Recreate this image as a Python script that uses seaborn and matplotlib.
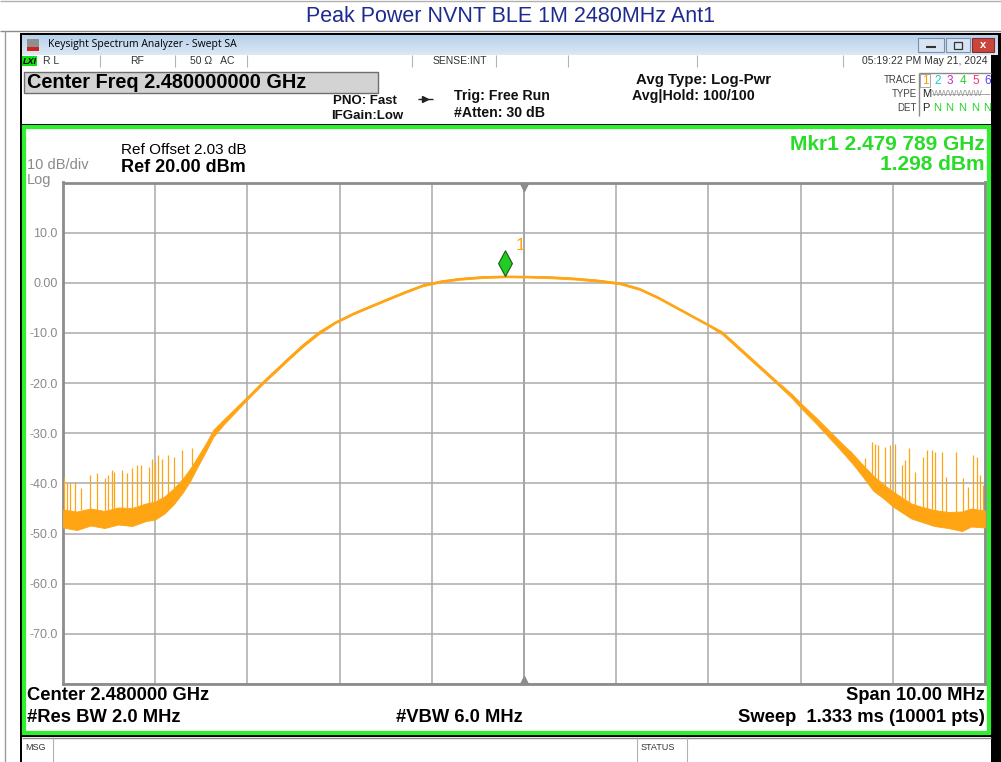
import numpy as np
import matplotlib
matplotlib.use("Agg")
import matplotlib.pyplot as plt
from matplotlib.patches import Rectangle
from matplotlib.path import Path
from matplotlib.colors import LinearSegmentedColormap
import seaborn as sns

# ------------------------------------
# Trace (offset from 2.48 GHz in MHz, level in dBm)
# low / high = bottom and top of the noisy trace band
# ------------------------------------
freq_mhz = [-5.00, -4.85, -4.70, -4.55, -4.40, -4.25, -4.10, -4.00, -3.90, -3.80,
            -3.70, -3.62, -3.55, -3.45, -3.37, -3.25, -3.11, -2.97, -2.84, -2.70,
            -2.55, -2.40, -2.23, -2.05, -1.85, -1.67, -1.50, -1.30, -1.10, -0.90,
            -0.70, -0.45, -0.20, 0.05, 0.30, 0.55, 0.80, 1.04, 1.25, 1.45,
            1.60, 1.80, 2.00, 2.15, 2.30, 2.45, 2.60, 2.75, 2.90, 3.03,
            3.17, 3.30, 3.43, 3.56, 3.68, 3.79, 3.90, 4.00, 4.10, 4.20,
            4.30, 4.45, 4.60, 4.75, 4.85, 5.00]
trace_low = [-48.8, -49.3, -48.4, -48.9, -48.2, -48.5, -47.5, -47.2, -46.0, -44.2,
             -41.8, -39.5, -37.0, -33.6, -30.7, -28.1, -25.4, -22.7, -20.3, -17.9,
             -15.3, -12.8, -10.3, -8.1, -6.3, -4.9, -3.6, -2.1, -0.7, 0.1,
             0.6, 0.95, 1.1, 1.05, 0.9, 0.65, 0.25, -0.3, -1.4, -3.1,
             -4.6, -6.6, -8.6, -10.3, -12.8, -15.3, -17.8, -20.3, -22.9, -25.5,
             -28.1, -30.7, -33.3, -36.0, -38.8, -41.5, -43.0, -44.6, -45.8, -47.0,
             -47.6, -48.5, -48.9, -49.5, -48.6, -48.8]
trace_high = [-45.2, -45.6, -45.0, -45.5, -44.8, -44.9, -44.0, -43.6, -42.6, -41.0,
              -39.0, -37.0, -35.0, -32.0, -29.3, -27.1, -24.6, -22.1, -19.7, -17.3,
              -14.7, -12.2, -9.7, -7.7, -5.9, -4.5, -3.2, -1.7, -0.3, 0.5,
              1.0, 1.35, 1.45, 1.4, 1.3, 1.05, 0.65, 0.1, -1.0, -2.7,
              -4.2, -6.2, -8.2, -9.7, -12.2, -14.7, -17.2, -19.7, -22.1, -24.5,
              -26.9, -29.3, -31.7, -34.0, -36.4, -38.5, -40.2, -41.6, -42.8, -44.0,
              -44.6, -45.3, -45.7, -45.6, -45.0, -45.4]

# noise spikes on the skirts
spike_left_mhz = [-4.99, -4.96, -4.92, -4.87, -4.80, -4.71, -4.63, -4.54, -4.51, -4.47,
                  -4.45, -4.36, -4.31, -4.25, -4.20, -4.15, -4.07, -4.04, -4.00, -3.97,
                  -3.93, -3.86, -3.80, -3.71, -3.60]
spike_left_dbm = [-39.0, -40.0, -40.0, -39.7, -41.0, -38.4, -38.0, -39.0, -38.4, -37.4,
                  -37.7, -37.3, -38.0, -37.0, -36.4, -36.4, -36.7, -35.1, -35.7, -34.4,
                  -35.1, -34.4, -34.7, -33.4, -33.0]
spike_right_mhz = [3.55, 3.70, 3.77, 3.81, 3.84, 3.92, 3.97, 4.02, 4.10, 4.13,
                   4.18, 4.24, 4.33, 4.37, 4.42, 4.46, 4.53, 4.58, 4.69, 4.76,
                   4.82, 4.87, 4.91, 4.95, 4.98]
spike_right_dbm = [-33.5, -35.0, -31.7, -32.1, -32.4, -32.7, -32.4, -32.1, -36.4, -35.4,
                   -33.0, -37.7, -34.7, -33.4, -33.4, -33.7, -33.7, -38.7, -33.7, -39.0,
                   -40.7, -34.4, -34.7, -38.4, -40.4]

marker_mhz = -0.211
marker_dbm = 1.298

y_levels = [20, 10, 0, -10, -20, -30, -40, -50, -60, -70, -80]
y_labels = ["", "10.0", "0.00", "-10.0", "-20.0", "-30.0", "-40.0", "-50.0", "-60.0", "-70.0", ""]
x_divs = [-5, -4, -3, -2, -1, 0, 1, 2, 3, 4, 5]

# ------------------------------------
# Style
# ------------------------------------
sns.set_style("white")
plt.rcParams["font.family"] = ["Liberation Sans", "DejaVu Sans"]
NARROW = ["Liberation Sans Narrow", "Liberation Sans", "DejaVu Sans"]

ORANGE = "#ffa413"
GREEN = "#2ef02e"
GRID = "#a9a9a9"

W, H = 1001, 762
fig = plt.figure(figsize=(W / 100, H / 100), dpi=100)
fig.patch.set_facecolor("white")

# background layer in pixel coordinates
bg = fig.add_axes([0, 0, 1, 1])
bg.axis("off")

def rect(x0, y0, x1, y1, fc="none", ec="none", lw=0, z=1):
    bg.add_patch(Rectangle((x0, y0), x1 - x0, y1 - y0, facecolor=fc,
                           edgecolor=ec, linewidth=lw, zorder=z))

def line(x0, y0, x1, y1, c="#9a9a9a", lw=1, z=3):
    bg.plot([x0, x1], [y0, y1], color=c, lw=lw, zorder=z, solid_capstyle="butt")

# outer page
line(0, 1, W, 1, c="#b0b0b0")
line(0, 31, W, 31, c="#8a8a8a")
line(5, 31, 5, H, c="#9a9a9a")
bg.text(511, 17, "Peak Power NVNT BLE 1M 2480MHz Ant1", ha="center", va="center",
        fontsize=15.5, color="#1d2b8e", family=NARROW)

# analyzer window
rect(20, 33, W, H, fc="black", z=1)
grad = LinearSegmentedColormap.from_list("tb", ["#b8d0ea", "#dbe8f5"])
bg.imshow(np.linspace(0, 1, 30).reshape(-1, 1), extent=[22, 998, 55, 35],
          cmap=grad, aspect="auto", zorder=2)
rect(27, 39, 39, 51, fc="#8f8f8f", z=3)
rect(27, 47, 39, 51, fc="#d02020", z=4)
bg.text(48, 45, "Keysight Spectrum Analyzer - Swept SA", ha="left", va="center",
        fontsize=7.5, color="black", family=["Open Sans", "DejaVu Sans"])
rect(918, 38, 944, 52, fc="#d6e4f3", ec="#7d8fa8", lw=0.8, z=3)
line(926, 47, 936, 47, c="#333", lw=1.5, z=4)
rect(946, 38, 970, 52, fc="#d6e4f3", ec="#7d8fa8", lw=0.8, z=3)
rect(954, 42, 962, 49, fc="none", ec="#333", lw=0.9, z=4)
rect(972, 38, 994, 52, fc="#c9463d", ec="#7d3030", lw=0.8, z=3)
bg.text(983, 45, "x", ha="center", va="center", fontsize=8, color="white",
        weight="bold", zorder=5)

# status row
rect(22, 55, 991, 67, fc="white", z=2)
rect(22, 56, 37, 66, fc="#14e014", z=3)
bg.text(29.5, 61, "LXI", ha="center", va="center", fontsize=6.5, weight="bold",
        style="italic", color="black", family=NARROW, zorder=4)
for sx in [100, 175, 247, 412, 496, 568, 697, 843]:
    line(sx, 55, sx, 67, c="#b5b5b5", lw=0.8)
status_font = dict(fontsize=7.5, color="#333333", va="center", family=NARROW, zorder=4)
bg.text(43, 61, "R L", ha="left", **status_font)
bg.text(137, 61, "RF", ha="center", **status_font)
bg.text(190, 61, "50 Ω   AC", ha="left", **status_font)
bg.text(433, 61, "SENSE:INT", ha="left", **status_font)
bg.text(988, 61, "05:19:22 PM May 21, 2024", ha="right", **status_font)

# header area
rect(22, 67, 991, 124, fc="white", z=2)
rect(24, 72, 378, 93, fc="#d3d3d3", ec="#6f6f6f", lw=1, z=3)
bg.text(27, 83, "Center Freq 2.480000000 GHz", ha="left", va="center",
        fontsize=14.3, weight="bold", color="black", zorder=4)
hdr = dict(fontsize=9.5, weight="bold", color="#111111", va="center", family=NARROW, zorder=4)
bg.text(333, 101, "PNO: Fast", ha="left", **hdr)
bg.text(331, 116, "IFGain:Low", ha="left", **hdr)
line(418, 99, 433, 99, c="#222", lw=1)
bg.plot([425], [99], marker=">", ms=4, color="#222", zorder=4)
hdr2 = dict(hdr, fontsize=10.2)
bg.text(454, 96, "Trig: Free Run", ha="left", **hdr2)
bg.text(454, 113, "#Atten: 30 dB", ha="left", **hdr2)
bg.text(636, 80, "Avg Type: Log-Pwr", ha="left", **dict(hdr, fontsize=10.8))
bg.text(632, 96, "Avg|Hold: 100/100", ha="left", **dict(hdr, fontsize=10.3))

small = dict(fontsize=7, color="#444444", va="center", family=NARROW, zorder=4)
bg.text(917, 80, "TRACE", ha="right", **small)
bg.text(917, 94, "TYPE", ha="right", **small)
bg.text(917, 108, "DET", ha="right", **small)
line(919, 73, 919, 116, c="#8a8a8a", lw=1)
line(919, 73, 991, 73, c="#8a8a8a", lw=1)
rect(920, 74, 930, 87, fc="none", ec="#999999", lw=0.6, z=3)
trace_cols = ["#ff9a00", "#18c8d8", "#c428c4", "#28d028", "#ff2a70", "#5a3cff"]
for i, c in enumerate(trace_cols):
    bg.text(925 + i * 12.6, 80.5, str(i + 1), ha="center", va="center",
            fontsize=8.5, color=c, family=NARROW, zorder=4)
bg.text(922, 94, "M", ha="left", fontsize=8, color="#222", va="center", family=NARROW, zorder=4)
bg.text(932, 94, "WWWWWW", ha="left", fontsize=6.5, color="#9a9a9a", va="center",
        family=NARROW, zorder=4)
line(932, 94, 990, 94, c="#9a9a9a", lw=0.6, z=5)
bg.text(922, 108, "P", ha="left", fontsize=8, color="#222", va="center", family=NARROW, zorder=4)
for i in range(5):
    bg.text(937 + i * 12.6, 108, "N", ha="center", va="center", fontsize=8,
            color="#22d822", family=NARROW, zorder=4)

# green measurement frame
rect(24, 127, 989, 733, fc="white", ec=GREEN, lw=3, z=2)
bg.text(121, 150, "Ref Offset 2.03 dB", ha="left", va="center", fontsize=11,
        color="black", zorder=4)
bg.text(121, 167, "Ref 20.00 dBm", ha="left", va="center", fontsize=13,
        weight="bold", color="black", zorder=4)
bg.text(27, 165, "10 dB/div", ha="left", va="center", fontsize=10.5,
        color="#8a8a8a", zorder=4)
bg.text(27, 180, "Log", ha="left", va="center", fontsize=10.5, color="#8a8a8a", zorder=4)
bg.text(985, 145, "Mkr1 2.479 789 GHz", ha="right", va="center", fontsize=15,
        weight="bold", color="#28dc28", zorder=4)
bg.text(985, 165, "1.298 dBm", ha="right", va="center", fontsize=15,
        weight="bold", color="#28dc28", zorder=4)

foot = dict(fontsize=13.2, weight="bold", color="black", va="center", zorder=4)
bg.text(27, 696, "Center 2.480000 GHz", ha="left", **foot)
bg.text(27, 718, "#Res BW 2.0 MHz", ha="left", **foot)
bg.text(396, 718, "#VBW 6.0 MHz", ha="left", **foot)
bg.text(985, 696, "Span 10.00 MHz", ha="right", **foot)
bg.text(985, 718, "Sweep  1.333 ms (10001 pts)", ha="right", **foot)

# message bar
rect(22, 737, 991, H, fc="white", z=2)
line(22, 737.5, 991, 737.5, c="#8a8a8a", lw=1)
line(53, 737, 53, H, c="#b0b0b0", lw=0.8)
line(637, 737, 637, H, c="#b0b0b0", lw=0.8)
line(687, 737, 687, H, c="#b0b0b0", lw=0.8)
bg.text(25, 747, "MSG", ha="left", va="center", fontsize=6.5, color="#333", family=NARROW, zorder=4)
bg.text(641, 747, "STATUS", ha="left", va="center", fontsize=6.5, color="#333", family=NARROW, zorder=4)

bg.set_xlim(0, W)
bg.set_ylim(H, 0)

# ------------------------------------
# Spectrum plot
# ------------------------------------
L, R, T, B = 63, 985, 182.5, 684
ax = fig.add_axes([L / W, (H - B) / H, (R - L) / W, (B - T) / H])
ax.set_facecolor("white")

for xv in x_divs:
    ax.axvline(xv, color="#8c8c8c" if xv == 0 else GRID, lw=1.1, zorder=1)
for yv in y_levels:
    ax.axhline(yv, color=GRID, lw=1.1, zorder=1)

ax.fill_between(freq_mhz, trace_low, trace_high, color=ORANGE, lw=0.6, zorder=3)
trace_mid = (np.array(trace_low) + np.array(trace_high)) / 2
sns.lineplot(x=freq_mhz, y=trace_mid, color=ORANGE, lw=0.8, ax=ax, zorder=3)

for sf, sd in [(spike_left_mhz, spike_left_dbm), (spike_right_mhz, spike_right_dbm)]:
    base = np.interp(sf, freq_mhz, trace_high)
    ax.vlines(sf, base, sd, color=ORANGE, lw=0.9, zorder=3)

# marker diamond sitting on the trace
diamond = Path([(0, 0), (7, 13), (0, 26), (-7, 13), (0, 0)],
               [Path.MOVETO, Path.LINETO, Path.LINETO, Path.LINETO, Path.CLOSEPOLY])
ax.plot([marker_mhz], [marker_dbm], marker=diamond, ms=37, color="#22cc22",
        mec="#1a5a1a", mew=0.8, zorder=5, clip_on=False)
ax.annotate("1", (marker_mhz, marker_dbm), xytext=(8, 22), textcoords="offset points",
            color=ORANGE, fontsize=12.5, ha="left", va="center", zorder=5)

# centre triangles
ax.plot([0], [19.2], marker="v", ms=6, color="#8c8c8c", zorder=4, clip_on=False)
ax.plot([0], [-79.2], marker="^", ms=6, color="#8c8c8c", zorder=4, clip_on=False)

ax.set_xlim(-5, 5)
ax.set_ylim(-80, 20)
ax.set_xticks([])
ax.set_yticks(y_levels)
ax.set_yticklabels(y_labels)
ax.tick_params(axis="y", length=0, pad=4, labelsize=9, labelcolor="#8a8a8a")
ax.set_xlabel("")
ax.set_ylabel("")
for sp in ax.spines.values():
    sp.set_color("#8c8c8c")
    sp.set_linewidth(2)
    sp.set_visible(True)

fig.savefig("out.png", dpi=100)
plt.close(fig)
